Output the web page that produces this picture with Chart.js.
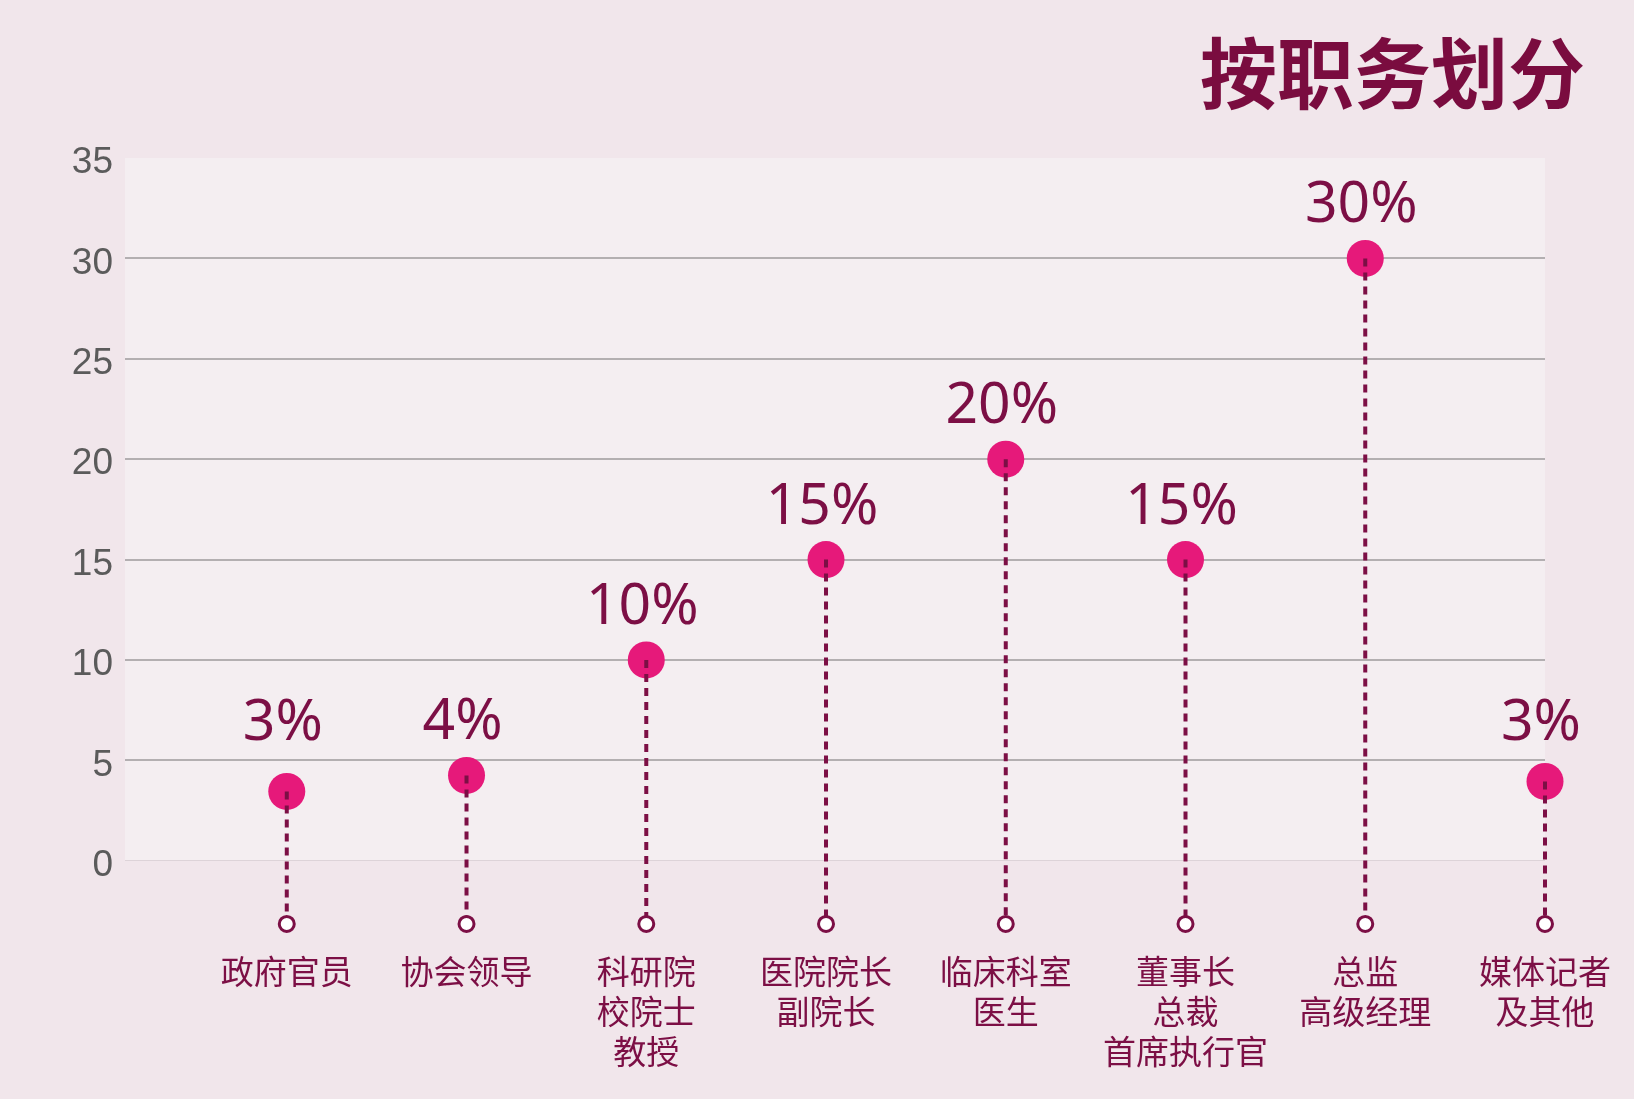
<!DOCTYPE html>
<html>
<head>
<meta charset="utf-8">
<script src="https://cdn.jsdelivr.net/npm/chart.js@4.4.0/dist/chart.umd.min.js"></script>
<style>
  html, body { margin: 0; padding: 0; background: #f1e6eb; }
  #wrap { width: 1634px; height: 1099px; position: relative; }
</style>
</head>
<body>
<div id="wrap"><canvas id="chart1"></canvas></div>
<script>
const chartTitle = "按职务划分";
const categories = [
  "政府官员",
  "协会领导",
  ["科研院", "校院士", "教授"],
  ["医院院长", "副院长"],
  ["临床科室", "医生"],
  ["董事长", "总裁", "首席执行官"],
  ["总监", "高级经理"],
  ["媒体记者", "及其他"]
];
const values = [3.45, 4.25, 10, 15, 20, 15, 30, 3.95];
const percentLabels = ["3%", "4%", "10%", "15%", "20%", "15%", "30%", "3%"];
const yTicks = [0, 5, 10, 15, 20, 25, 30, 35];
const stemBase = -3.15;

const MAROON = "#7c0f45";
const PINK = "#e6197a";

// light panel behind the plot, from 0 up to 35
const plotBg = {
  id: "plotBg",
  beforeDraw(chart) {
    const { ctx, chartArea, scales } = chart;
    const top = scales.y.getPixelForValue(35);
    const bottom = scales.y.getPixelForValue(0);
    ctx.save();
    ctx.fillStyle = "#f4eef1";
    ctx.fillRect(chartArea.left, top, chartArea.right - chartArea.left, bottom - top);
    ctx.restore();
  }
};

// percent text above each dot (small ones share one line)
const pctLabels = {
  id: "pctLabels",
  afterDatasetsDraw(chart) {
    const { ctx, scales } = chart;
    const meta = chart.getDatasetMeta(chart.data.datasets.length - 1);
    const floorY = scales.y.getPixelForValue(4.2);
    ctx.save();
    ctx.font = "57px 'Noto Sans', sans-serif";
    ctx.fillStyle = MAROON;
    ctx.textAlign = "center";
    ctx.textBaseline = "alphabetic";
    meta.data.forEach((pt, i) => {
      const y = Math.min(pt.y, floorY) - 36;
      ctx.fillText(percentLabels[i], pt.x - 4, y);
    });
    ctx.restore();
  }
};

const cornerTitle = {
  id: "cornerTitle",
  afterDraw(chart) {
    const ctx = chart.ctx;
    ctx.save();
    ctx.font = "bold 77px 'Noto Sans CJK SC', sans-serif";
    ctx.fillStyle = "#7a0c3f";
    ctx.textAlign = "right";
    ctx.textBaseline = "middle";
    ctx.fillText(chartTitle, chart.width - 49, 74);
    ctx.restore();
  }
};

const hollowData = values.map((v, i) => ({ x: i, y: stemBase }));
const dotData = values.map((v, i) => ({ x: i, y: v }));
const stems = values.map((v, i) => ({
  data: [{ x: i, y: v }, { x: i, y: stemBase }],
  borderColor: MAROON,
  borderWidth: 4,
  borderDash: [8, 6],
  pointRadius: 0,
  fill: false,
  clip: false
}));

const ctx1 = document.getElementById("chart1").getContext("2d");
const chart1 = new Chart(ctx1, {
  type: "line",
  data: {
    datasets: [
      { data: hollowData, showLine: false, pointRadius: 7.5, pointBorderWidth: 3,
        pointBackgroundColor: "#ffffff", pointBorderColor: MAROON, clip: false },
      ...stems,
      { data: dotData, showLine: false, pointRadius: 18.5, pointBorderWidth: 0,
        pointBackgroundColor: PINK, pointBorderColor: PINK, clip: false }
    ]
  },
  options: {
    responsive: true,
    maintainAspectRatio: false,
    animation: false,
    layout: { padding: { top: 158, right: 89, left: 0, bottom: 0 } },
    scales: {
      x: {
        type: "linear",
        min: -0.9,
        max: 7,
        afterBuildTicks: s => { s.ticks = categories.map((c, i) => ({ value: i })); },
        afterFit: s => { s.height = 166; },
        grid: { display: false, drawTicks: false },
        border: { display: false },
        ticks: {
          autoSkip: false,
          maxRotation: 0,
          padding: 19,
          color: MAROON,
          font: { family: "'Noto Sans CJK SC', sans-serif", size: 33, lineHeight: 1.2 },
          callback: v => categories[v]
        }
      },
      y: {
        min: -3.6,
        max: 35,
        afterBuildTicks: s => { s.ticks = yTicks.map(v => ({ value: v })); },
        afterFit: s => { s.width = 125; },
        border: { display: false },
        grid: {
          drawTicks: false,
          color: c => c.tick.value === 0 ? "#ddd3d8" : (c.tick.value === 35 ? "rgba(0,0,0,0)" : "#b3afb1"),
          lineWidth: c => c.tick.value === 0 ? 1 : 2
        },
        ticks: {
          padding: 12,
          labelOffset: 5,
          color: "#5b5b5b",
          font: { family: "'Liberation Sans', Arial, sans-serif", size: 37 }
        }
      }
    },
    plugins: {
      legend: { display: false },
      tooltip: { enabled: false },
      title: { display: false }
    }
  },
  plugins: [plotBg, pctLabels, cornerTitle]
});
</script>
</body>
</html>
